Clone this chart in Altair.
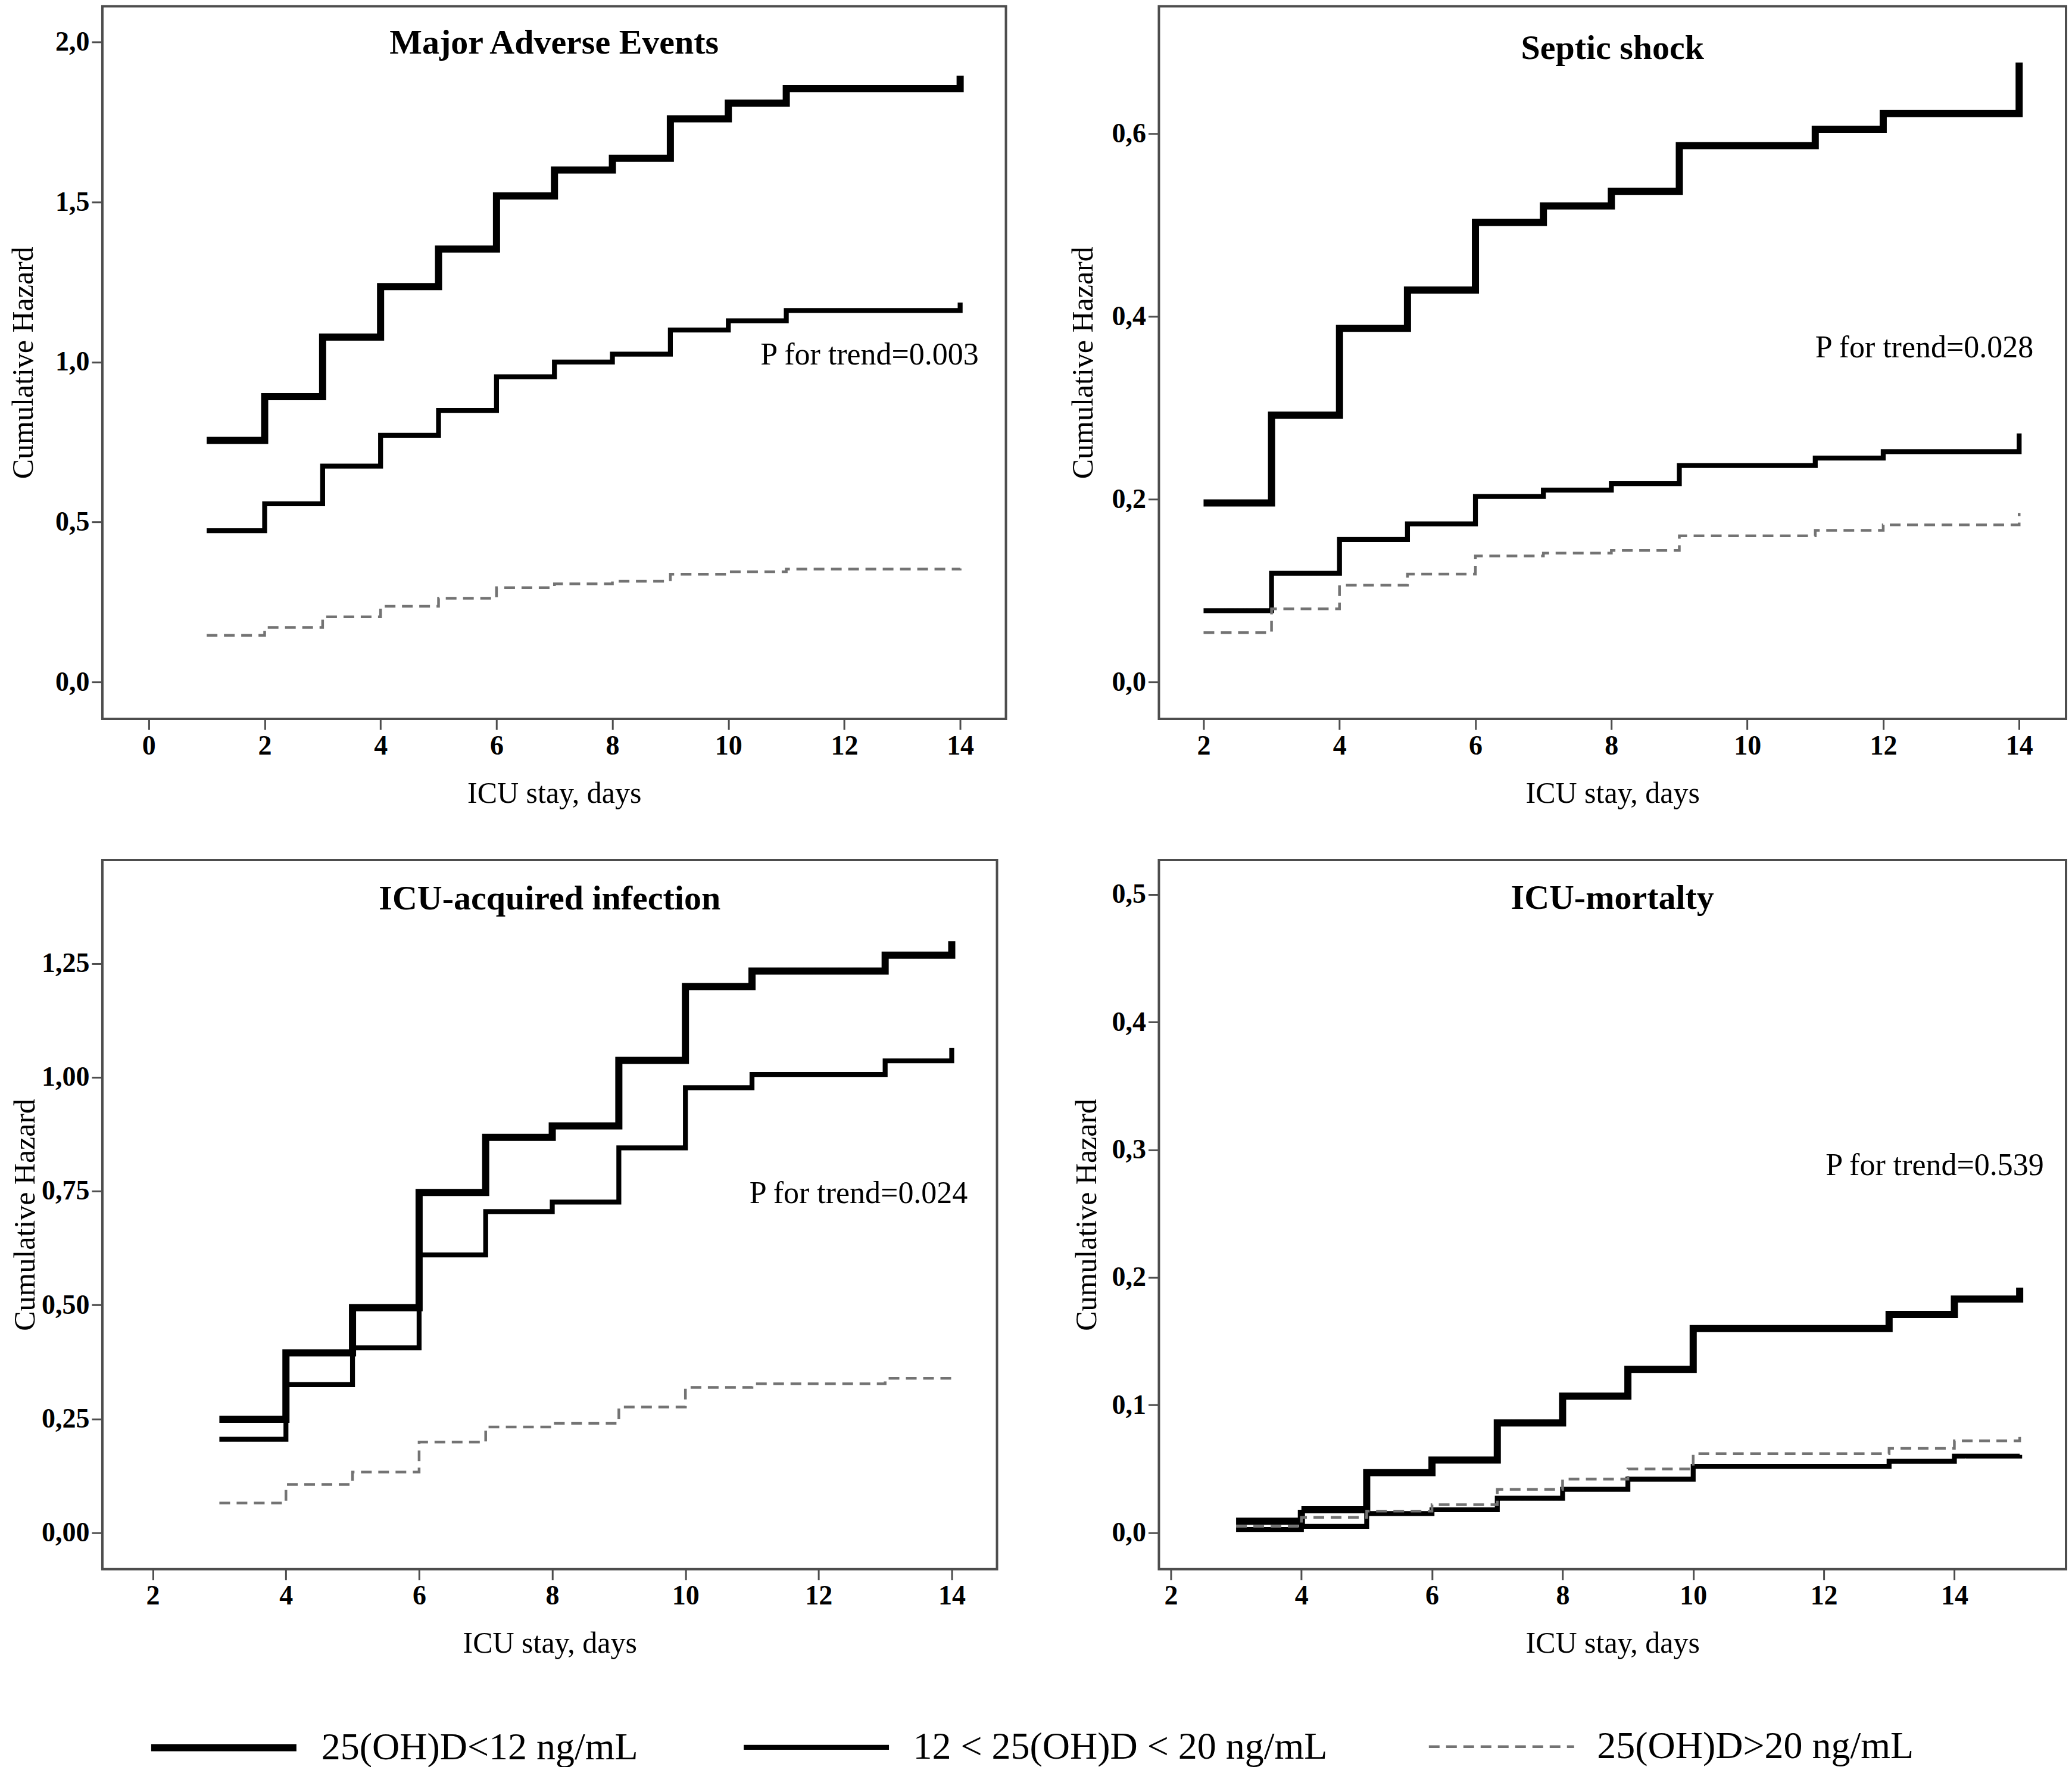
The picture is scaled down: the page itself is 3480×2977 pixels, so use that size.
import altair as alt
import pandas as pd

FONT = "Liberation Serif"

SERIES = ["25(OH)D<12 ng/mL", "12 < 25(OH)D < 20 ng/mL", "25(OH)D>20 ng/mL"]
SERIES_COLORS = ["#000000", "#000000", "#737373"]
SERIES_WIDTHS = [12, 4.5, 7]
SERIES_DASHES = [[1, 0], [1, 0], [18, 11]]

# ---- Major Adverse Events ----
mae_days = [1, 2, 3, 4, 5, 6, 7, 8, 9, 10, 11, 14, 14]
mae_low = [0.755, 0.892, 1.078, 1.236, 1.353, 1.519, 1.600, 1.637, 1.760, 1.809, 1.854, 1.854, 1.895]
mae_mid = [0.473, 0.557, 0.675, 0.771, 0.849, 0.954, 1.000, 1.025, 1.100, 1.129, 1.161, 1.161, 1.186]
mae_high = [0.146, 0.171, 0.204, 0.237, 0.262, 0.295, 0.307, 0.315, 0.337, 0.345, 0.353, 0.353, 0.355]

# ---- Septic shock ----
ss_days = [2, 3, 4, 5, 6, 7, 8, 9, 11, 12, 14, 14]
ss_low = [0.196, 0.292, 0.387, 0.429, 0.503, 0.521, 0.537, 0.587, 0.605, 0.622, 0.622, 0.678]
ss_mid = [0.078, 0.119, 0.156, 0.173, 0.203, 0.210, 0.217, 0.237, 0.245, 0.252, 0.252, 0.272]
ss_high = [0.054, 0.080, 0.106, 0.118, 0.138, 0.141, 0.144, 0.160, 0.166, 0.172, 0.172, 0.185]

# ---- ICU-acquired infection ----
inf_days = [3, 4, 5, 6, 7, 8, 9, 10, 11, 13, 14, 14]
inf_low = [0.249, 0.395, 0.494, 0.747, 0.868, 0.893, 1.037, 1.199, 1.233, 1.268, 1.268, 1.299]
inf_mid = [0.205, 0.325, 0.406, 0.610, 0.705, 0.726, 0.845, 0.977, 1.006, 1.036, 1.036, 1.064]
inf_high = [0.065, 0.106, 0.133, 0.199, 0.232, 0.240, 0.276, 0.319, 0.327, 0.339, 0.339, 0.339]

# ---- ICU-mortality ----
mort_days = [3, 4, 5, 6, 7, 8, 9, 10, 13, 14, 15, 15]
mort_low = [0.009, 0.018, 0.047, 0.057, 0.086, 0.107, 0.128, 0.160, 0.171, 0.183, 0.183, 0.192]
mort_mid = [0.0025, 0.005, 0.015, 0.018, 0.027, 0.034, 0.042, 0.052, 0.056, 0.060, 0.060, 0.061]
mort_high = [0.005, 0.012, 0.017, 0.022, 0.034, 0.042, 0.050, 0.062, 0.066, 0.072, 0.072, 0.075]

# panel titles and trend annotations
titles = ["Major Adverse Events", "Septic shock", "ICU-acquired infection", "ICU-mortalty"]
trend_text = ["P for trend=0.003", "P for trend=0.028", "P for trend=0.024", "P for trend=0.539"]
trend_day = [14.32, 14.21, 14.24, 15.37]
trend_hazard = [0.993, 0.355, 0.724, 0.280]


def step_frame(days, low, mid, high):
    rows = []
    for name, vals in zip(SERIES, [low, mid, high]):
        for i, (d, v) in enumerate(zip(days, vals)):
            rows.append({"day": d, "hazard": v, "group": name, "idx": i})
    return pd.DataFrame(rows)


def panel(k, days, low, mid, high, xdom, xticks, ydom, yticks, yfmt,
          width, height, title_offset, ytitle_pad):
    df = step_frame(days, low, mid, high)
    x = alt.X("day:Q",
              scale=alt.Scale(domain=xdom, nice=False, zero=False),
              axis=alt.Axis(values=xticks, title="ICU stay, days", format="d"))
    y = alt.Y("hazard:Q",
              scale=alt.Scale(domain=ydom, nice=False, zero=False),
              axis=alt.Axis(values=yticks, title="Cumulative Hazard",
                            titlePadding=ytitle_pad,
                            labelExpr=f"replace(format(datum.value, '{yfmt}'), '.', ',')"))
    lines = alt.Chart(df).mark_line(interpolate="step-after").encode(
        x=x,
        y=y,
        color=alt.Color("group:N", title=None,
                        scale=alt.Scale(domain=SERIES, range=SERIES_COLORS)),
        strokeWidth=alt.StrokeWidth("group:N", title=None,
                                    scale=alt.Scale(domain=SERIES, range=SERIES_WIDTHS)),
        strokeDash=alt.StrokeDash("group:N", title=None,
                                  scale=alt.Scale(domain=SERIES, range=SERIES_DASHES)),
        detail="group:N",
        order="idx:Q",
    )
    ann_df = pd.DataFrame({"day": [trend_day[k]], "hazard": [trend_hazard[k]],
                           "label": [trend_text[k]]})
    ann = alt.Chart(ann_df).mark_text(
        align="right", baseline="alphabetic", font=FONT, fontSize=52, color="black"
    ).encode(x=alt.X("day:Q"), y=alt.Y("hazard:Q"), text="label:N")
    return alt.layer(lines, ann).properties(
        width=width, height=height,
        title=alt.TitleParams(text=titles[k], font=FONT, fontSize=58, fontWeight="bold",
                              color="black", offset=title_offset, frame="group",
                              baseline="alphabetic", anchor="middle"),
    )


p1 = panel(0, mae_days, mae_low, mae_mid, mae_high,
           [-0.80, 14.79], [0, 2, 4, 6, 8, 10, 12, 14],
           [-0.115, 2.112], [0, 0.5, 1.0, 1.5, 2.0], ".1f", 1518, 1197, -138, 28)
p2 = panel(1, ss_days, ss_low, ss_mid, ss_high,
           [1.343, 14.69], [2, 4, 6, 8, 10, 12, 14],
           [-0.0404, 0.7396], [0, 0.2, 0.4, 0.6], ".1f", 1524, 1197, -147, 22)
p3 = panel(2, inf_days, inf_low, inf_mid, inf_high,
           [1.243, 14.68], [2, 4, 6, 8, 10, 12, 14],
           [-0.080, 1.477], [0, 0.25, 0.5, 0.75, 1.0, 1.25], ".2f", 1503, 1191, -141, 2)
p4 = panel(3, mort_days, mort_low, mort_mid, mort_high,
           [1.818, 15.71], [2, 4, 6, 8, 10, 12, 14],
           [-0.0285, 0.527], [0, 0.1, 0.2, 0.3, 0.4, 0.5], ".1f", 1524, 1191, -140, 16)

chart = alt.concat(
    p1, p2, p3, p4, columns=2, spacing={"row": 237, "column": 257}, bounds="flush"
).properties(
    padding={"left": 4, "top": 0, "right": 0, "bottom": 0}
).configure_view(
    stroke="#4d4d4d", strokeWidth=4
).configure_axis(
    domain=False, grid=False, tickColor="#4d4d4d", tickWidth=3, tickSize=18,
    labelFont=FONT, labelFontSize=46, labelFontWeight="bold", labelColor="black",
    titleFont=FONT, titleFontSize=50, titleFontWeight="normal", titleColor="black",
).configure_axisX(
    labelPadding=5, titlePadding=32
).configure_axisY(
    labelPadding=4
).configure_legend(
    orient="none", legendX=76, legendY=2797, direction="horizontal",
    symbolType="stroke", symbolSize=59536, labelFont=FONT, labelFontSize=64,
    labelColor="black", labelLimit=2000, labelOffset=36, columnPadding=160,
    padding=0,
)

chart.save("out.html", embed_options={"renderer": "svg", "actions": False})
